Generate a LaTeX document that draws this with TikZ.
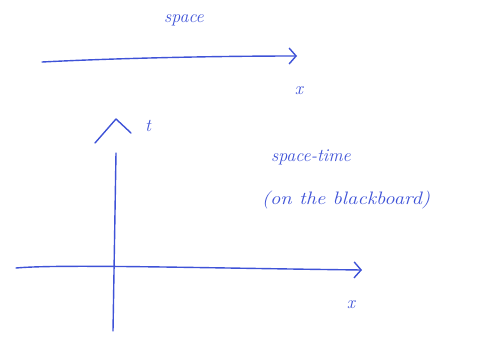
\documentclass[tikz,border=0pt]{standalone}
\usetikzlibrary{arrows.meta}
\definecolor{ink}{RGB}{62,82,215}
\begin{document}
\begin{tikzpicture}[x=1pt,y=-1pt,
  pen/.style={draw=ink,line width=1.4pt,line cap=round,line join=round},
  hand/.style={text=ink,font=\itshape\fontsize{18}{20}\selectfont,inner sep=1pt},
  axarrow/.style={pen,-{Straight Barb[length=7pt,width=16pt,line width=1.4pt]}}]
\useasboundingbox (0,0) rectangle (481,338);
% top space line
\coordinate (s0) at (42,62);
\coordinate (s1) at (297,56);
\draw[axarrow] (s0) .. controls (120,58) and (220,56) .. (s1);
\node[hand] (space) at (184,20) {space};
\node[hand] (x1) at (299,91) {x};
% space-time diagram
\coordinate (v0) at (116,153);
\coordinate (v1) at (113,331);
\draw[pen] (v0) -- (v1);
\coordinate (c0) at (95,143);
\coordinate (c1) at (116,119);
\coordinate (c2) at (131,133);
\draw[pen] (c0) -- (c1) -- (c2);
\node[hand] (t) at (148,126) {t};
\coordinate (h0) at (16,268);
\coordinate (h1) at (362,270);
\draw[axarrow] (h0) .. controls (60,264) and (200,268) .. (h1);
\node[hand] (x2) at (351,305) {x};
\node[hand] (st) at (311,157) {space-time};
\node[hand,xscale=1.15] (bb) at (346,200) {(on the blackboard)};
\end{tikzpicture}
\end{document}
